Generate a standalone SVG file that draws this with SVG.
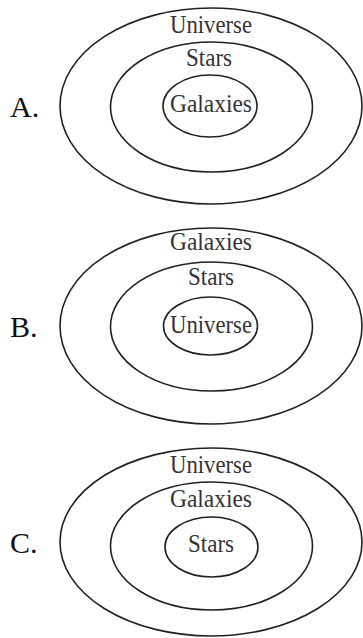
<svg xmlns="http://www.w3.org/2000/svg" width="363" height="638" viewBox="0 0 363 638">
<style>
.e{fill:none;stroke:#222;stroke-width:1.6}
.t{font-family:"Liberation Serif","Times New Roman",serif;font-size:24.5px;fill:#333;text-anchor:middle}
.l{font-family:"Liberation Serif","Times New Roman",serif;font-size:30px;fill:#111}
</style>
<rect width="363" height="638" fill="#fff"/>
<g id="optionA">
<text class="l" x="10" y="117">A.</text>
<ellipse class="e" cx="211" cy="106" rx="151" ry="98"/>
<ellipse class="e" cx="211.5" cy="107" rx="101" ry="65"/>
<ellipse class="e" cx="210" cy="106" rx="47" ry="31"/>
<text class="t" x="211" y="33" textLength="82" lengthAdjust="spacingAndGlyphs">Universe</text>
<text class="t" x="209" y="66" textLength="46" lengthAdjust="spacingAndGlyphs">Stars</text>
<text class="t" x="211" y="112" textLength="82" lengthAdjust="spacingAndGlyphs">Galaxies</text>
</g>
<g id="optionB">
<text class="l" x="10" y="337">B.</text>
<ellipse class="e" cx="211" cy="326" rx="151" ry="98"/>
<ellipse class="e" cx="211.5" cy="326.5" rx="101" ry="64.5"/>
<ellipse class="e" cx="210.5" cy="326" rx="47" ry="29"/>
<text class="t" x="211" y="250" textLength="82" lengthAdjust="spacingAndGlyphs">Galaxies</text>
<text class="t" x="211" y="285" textLength="46" lengthAdjust="spacingAndGlyphs">Stars</text>
<text class="t" x="211" y="333" textLength="82" lengthAdjust="spacingAndGlyphs">Universe</text>
</g>
<g id="optionC">
<text class="l" x="10" y="553">C.</text>
<ellipse class="e" cx="211" cy="542" rx="151" ry="94"/>
<ellipse class="e" cx="211.5" cy="546" rx="101" ry="64"/>
<ellipse class="e" cx="211.5" cy="547" rx="46.5" ry="30"/>
<text class="t" x="211" y="473" textLength="82" lengthAdjust="spacingAndGlyphs">Universe</text>
<text class="t" x="211" y="507" textLength="82" lengthAdjust="spacingAndGlyphs">Galaxies</text>
<text class="t" x="211" y="552" textLength="46" lengthAdjust="spacingAndGlyphs">Stars</text>
</g>
</svg>
